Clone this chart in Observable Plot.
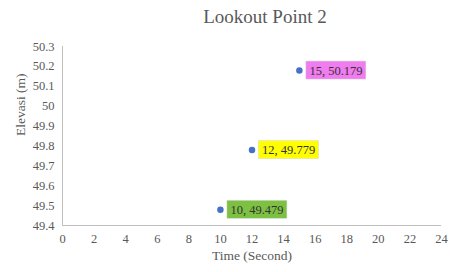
<!DOCTYPE html>
<html><head><meta charset="utf-8">
<script src="https://cdn.jsdelivr.net/npm/d3@7"></script>
<script src="https://cdn.jsdelivr.net/npm/@observablehq/plot@0.6"></script>
<style>
body{margin:0;background:#fff;}
#title{height:30px;width:450px;font-family:"Liberation Serif",serif;font-size:19px;color:#595959;text-align:center;line-height:34px;padding-left:80px;box-sizing:border-box;}
svg text{font-family:"Liberation Serif",serif;}
</style></head><body>
<div id="title">Lookout Point 2</div>
<div id="chart"></div>
<script>
const times = [10, 12, 15];
const elevations = [49.479, 49.779, 50.179];
const labelColors = ["#7dc142", "#ffff00", "#f07cf0"];
const xTicks = [0,2,4,6,8,10,12,14,16,18,20,22,24];
const yTicks = [49.4,49.5,49.6,49.7,49.8,49.9,50,50.1,50.2,50.3];
const xTitle = "Time (Second)";
const yTitle = "Elevasi (m)";

const data = times.map((t,i)=>({x:t, y:elevations[i], c:labelColors[i], label:`${t}, ${elevations[i]}`}));
const serif = "'Liberation Serif', serif";

const chart = Plot.plot({
  width: 450, height: 242,
  marginTop: 16, marginBottom: 47, marginLeft: 62, marginRight: 9,
  style: {fontFamily: serif, fontSize: "12px", color: "#595959", background: "#fff"},
  x: {domain: [0, 24]},
  y: {domain: [49.4, 50.3]},
  marks: [
    Plot.axisX(xTicks, {tickSize: 0, tickPadding: 9, label: null, fontFamily: serif, fontSize: 12.5, fill: "#595959"}),
    Plot.axisY(yTicks, {tickSize: 0, tickPadding: 8, label: null, tickFormat: d => String(+d.toFixed(1)), fontFamily: serif, fontSize: 12.5, fill: "#595959"}),
    Plot.text([xTitle], {frameAnchor: "bottom", dy: 34, fontFamily: serif, fontSize: 13.5, fill: "#595959"}),
    Plot.text([yTitle], {frameAnchor: "left", dx: -42, rotate: -90, fontFamily: serif, fontSize: 13.5, fill: "#595959"}),
    Plot.ruleX([0], {stroke: "#bfbfbf"}),
    Plot.ruleY([49.4], {stroke: "#bfbfbf"}),
    Plot.rect(data, {x1: "x", x2: "x", y1: "y", y2: "y", fill: "c", insetLeft: 7, insetRight: -67, insetTop: -9, insetBottom: -9, stroke: "#d8d8d8", strokeWidth: 0.5}),
    Plot.dot(data, {x: "x", y: "y", r: 2.5, fill: "#4472c4", stroke: "#4472c4"}),
    Plot.text(data, {x: "x", y: "y", text: "label", dx: 10, textAnchor: "start", fill: "#333", fontFamily: serif, fontSize: 12.5})
  ]
});
document.getElementById("chart").appendChild(chart);
</script>
</body></html>
